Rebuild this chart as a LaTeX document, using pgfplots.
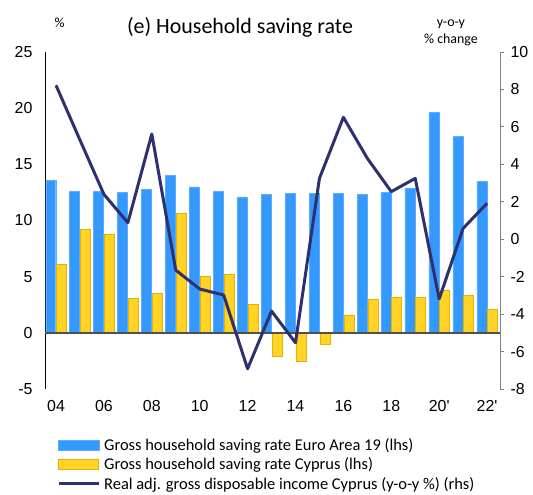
\documentclass[border=0pt]{standalone}
\usepackage{fontspec}
\setmainfont{Carlito}
\newfontfamily\arialfont{Liberation Sans}
\usepackage{pgfplots}
\pgfplotsset{compat=1.18}
\definecolor{eablue}{RGB}{51,153,255}
\definecolor{cyyellow}{RGB}{255,212,38}
\definecolor{cyedge}{RGB}{226,180,0}
\definecolor{navyline}{RGB}{46,49,110}
\definecolor{zerogray}{RGB}{80,80,80}
\begin{document}
\begin{tikzpicture}[x=1bp,y=1bp]
% invisible frame to set page size 533x495 (plot area origin at pixel (45,389))
\path (-45,-106) rectangle (488,389);
\begin{axis}[
  at={(0,0)}, anchor=south west,
  scale only axis, width=455bp, height=337bp,
  xmin=-0.46, xmax=18.54, ymin=-5, ymax=25,
  ytick={-5,0,...,25},
  xtick={0,2,...,18},
  xticklabels={04,06,08,10,12,14,16,18,20',22'},
  axis y line*=left, axis x line*=bottom,
  x axis line style={draw=none},
  y axis line style={black, line width=0.9bp},
  major tick length=0pt,
  tick style={draw=none},
  /pgf/number format/assume math mode=true,
  ticklabel style={font=\arialfont\fontsize{16}{16}\selectfont},
  yticklabel style={xshift=-9bp},
  xticklabel style={yshift=-8bp},
  ybar, bar width=10bp,
  clip=false,
  legend style={at={(axis description cs:0,0)}, anchor=north west, xshift=12bp, yshift=-47bp,
    draw=none, fill=none, font=\fontsize{16.5}{16.5}\selectfont, legend cell align=left,
    row sep=2bp, inner sep=0pt,
    /tikz/every odd column/.style={column sep=2bp}},
]
\addplot[fill=eablue, draw=eablue!80!white, line width=0.4bp, bar shift=-5.3bp,
  legend image code/.code={\draw[fill=eablue, draw=eablue!80!white] (0bp,-5bp) rectangle (40bp,5bp);}]
 coordinates {(0,13.6)(1,12.6)(2,12.6)(3,12.5)(4,12.8)(5,14.0)(6,13.0)(7,12.6)(8,12.1)(9,12.3)(10,12.4)(11,12.4)(12,12.4)(13,12.3)(14,12.5)(15,12.9)(16,19.6)(17,17.5)(18,13.5)};
\addlegendentry{Gross household saving rate Euro Area 19 (lhs)}
\addplot[fill=cyyellow, draw=cyedge, line width=0.6bp, bar shift=5.5bp,
  legend image code/.code={\draw[fill=cyyellow, draw=cyedge, line width=0.6bp] (0bp,-5bp) rectangle (40bp,5bp);}]
 coordinates {(0,6.1)(1,9.2)(2,8.8)(3,3.1)(4,3.5)(5,10.6)(6,5.05)(7,5.25)(8,2.5)(9,-2.1)(10,-2.55)(11,-1.0)(12,1.6)(13,3.0)(14,3.2)(15,3.15)(16,3.8)(17,3.35)(18,2.1)};
\addlegendentry{Gross household saving rate Cyprus (lhs)}
\addlegendimage{legend image code/.code={\draw[navyline, line width=3bp] (0bp,0bp) -- (40bp,0bp);}}
\addlegendentry{Real adj. gross disposable income Cyprus (y-o-y \%) (rhs)}
\draw[zerogray, line width=1.4bp] (axis cs:-0.46,0) -- (axis cs:18.54,0);
\end{axis}
\begin{axis}[
  at={(0,0)}, anchor=south west,
  scale only axis, width=455bp, height=337bp,
  xmin=-0.46, xmax=18.54, ymin=-8, ymax=10,
  ytick={-8,-6,...,10},
  axis y line*=right, axis x line=none,
  y axis line style={gray, line width=0.9bp},
  ytick style={gray, line width=0.9bp},
  tick align=outside, major tick length=4bp,
  /pgf/number format/assume math mode=true,
  ticklabel style={font=\arialfont\fontsize{16}{16}\selectfont},
  yticklabel style={xshift=3bp},
  clip=false,
]
\addplot[navyline, line width=3bp, mark=none, line join=round]
 coordinates {(0,8.22)(1,5.3)(2,2.4)(3,0.88)(4,5.62)(5,-1.65)(6,-2.66)(7,-2.98)(8,-6.92)(9,-3.84)(10,-5.53)(11,3.25)(12,6.51)(13,4.32)(14,2.54)(15,3.25)(16,-3.19)(17,0.58)(18,1.92)};
\end{axis}
\node[anchor=base, font=\fontsize{22}{22}\selectfont] at (195,355.7) {(e) Household saving rate};
\node[anchor=base, font=\fontsize{14}{14}\selectfont] at (14.5,361.7) {\%};
\node[anchor=base, font=\fontsize{14}{14}\selectfont] at (406,362.5) {y-o-y};
\node[anchor=base, font=\fontsize{14}{14}\selectfont] at (406,345) {\% change};
\end{tikzpicture}
\end{document}
